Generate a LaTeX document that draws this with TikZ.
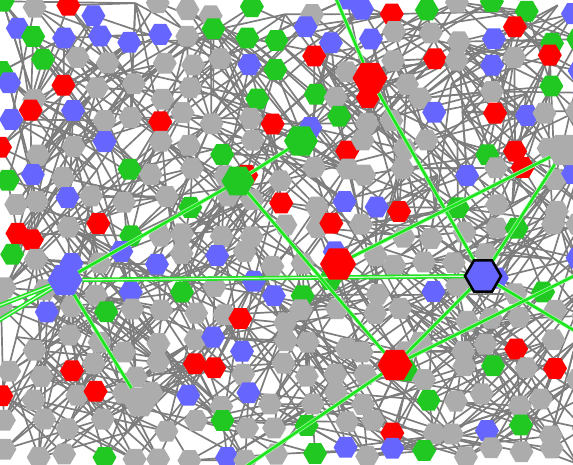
\documentclass[tikz,border=0pt]{standalone}
\usetikzlibrary{shapes.geometric}
\definecolor{nodegrey}{RGB}{172,172,172}
\definecolor{nodered}{RGB}{255,0,0}
\definecolor{nodegreen}{RGB}{34,200,34}
\definecolor{nodeblue}{RGB}{102,102,255}
\definecolor{wiregrey}{RGB}{125,125,125}
\definecolor{linkgreen}{RGB}{30,230,30}
\pgfdeclarelayer{wires}
\pgfdeclarelayer{dots}
\pgfdeclarelayer{links}
\pgfsetlayers{wires,dots,links,main}
\tikzset{
  hex/.style={regular polygon, regular polygon sides=6, inner sep=0pt, outer sep=0pt, draw=none, minimum size=24pt},
  hub/.style={hex, minimum size=35pt},
  wire/.style={draw=wiregrey, line width=1.7pt},
  link/.style={draw=linkgreen, line width=2.6pt, preaction={draw=linkgreen!35!white, line width=4pt}},
  twinlink/.style={draw=linkgreen, line width=1.6pt, double=white!80!linkgreen, double distance=1.2pt}
}

\begin{document}
\begin{tikzpicture}[x=1pt, y=-1pt]
\useasboundingbox (0,0) rectangle (573,464);
\pgfmathsetseed{2718}
% small nodes on a jittered grid
\begin{pgfonlayer}{dots}
\foreach \i in {0,...,19}{
  \foreach \j in {0,...,16}{
    \pgfmathsetmacro{\px}{9+30*\i+9*rand}
    \pgfmathsetmacro{\py}{7+28*\j+9*rand}
    \pgfmathsetmacro{\greyodds}{0.42+0.3*\j/16}
    \pgfmathsetmacro{\roll}{rnd}
    \pgfmathtruncatemacro{\kind}{\roll<\greyodds ? 0 : min(3,1+floor(3*(\roll-\greyodds)/(1-\greyodds)))}
    \pgfmathtruncatemacro{\gap}{rnd<0.07 ? 1 : 0}
    \edef\col{\ifcase\kind nodegrey\or nodered\or nodegreen\or nodeblue\fi}
    \ifnum\gap=1
      \coordinate (n-\i-\j) at (\px,\py);
    \else
      \node[hex, fill=\col] (n-\i-\j) at (\px,\py) {};
    \fi
  }
}
\end{pgfonlayer}
% grey wiring
\begin{pgfonlayer}{wires}
\foreach \i in {0,...,19}{
  \foreach \j in {0,...,16}{
    \foreach \e in {1,2,3}{
      \pgfmathtruncatemacro{\di}{random(0,8)-4}
      \pgfmathtruncatemacro{\dj}{random(0,8)-4}
      \pgfmathtruncatemacro{\ti}{(\i+\di<0 || \i+\di>19) ? \i-\di : \i+\di}
      \pgfmathtruncatemacro{\tj}{(\j+\dj<0 || \j+\dj>16) ? \j-\dj : \j+\dj}
      \draw[wire] (n-\i-\j.center) -- (n-\ti-\tj.center);
    }
  }
}
\end{pgfonlayer}
% hubs
\node[hub, fill=nodeblue] (hubA) at (65,280) {};
\node[hub, fill=nodegreen, minimum size=33pt] (hubB) at (238,181) {};
\node[hub, fill=nodegreen, minimum size=34pt] (hubC) at (301,141) {};
\node[hub, fill=nodered] (hubD) at (370,78) {};
\node[hub, fill=nodered, minimum size=36pt] (hubE) at (338,264) {};
\node[hub, fill=nodeblue, draw=black, line width=2.5pt, minimum size=36pt] (hubF) at (483,276) {};
\node[hub, fill=nodered] (hubG) at (395,365) {};
\node[hub, fill=nodegrey, minimum size=33pt] (hubH) at (140,402) {};
\node[hub, fill=nodegrey] (hubI) at (564,150) {};
\coordinate (farN) at (328,-20);
\coordinate (farW1) at (-25,315);
\coordinate (farW2) at (-25,335);
\coordinate (farE1) at (600,346);
\coordinate (farE2) at (600,263);
\coordinate (farS) at (235,474);
% green links
\begin{pgfonlayer}{links}
\draw[link] (hubA) -- (hubB);
\draw[link] (hubB) -- (hubC);
\draw[twinlink] (hubA) -- (hubF);
\draw[twinlink] (hubA) -- (farW1);
\draw[twinlink] (hubA) -- (farW2);
\draw[link] (hubA) -- (hubH);
\draw[link] (hubB) -- (hubG);
\draw[link] (farN) -- (hubD);
\draw[link] (hubD) -- (hubF);
\draw[link] (hubE) -- (hubI);
\draw[link] (hubF) -- (hubI);
\draw[link] (hubF) -- (hubG);
\draw[link] (hubF) -- (farE1);
\draw[link] (hubG) -- (farE2);
\draw[link] (hubG) -- (farS);
\end{pgfonlayer}
\end{tikzpicture}
\end{document}
